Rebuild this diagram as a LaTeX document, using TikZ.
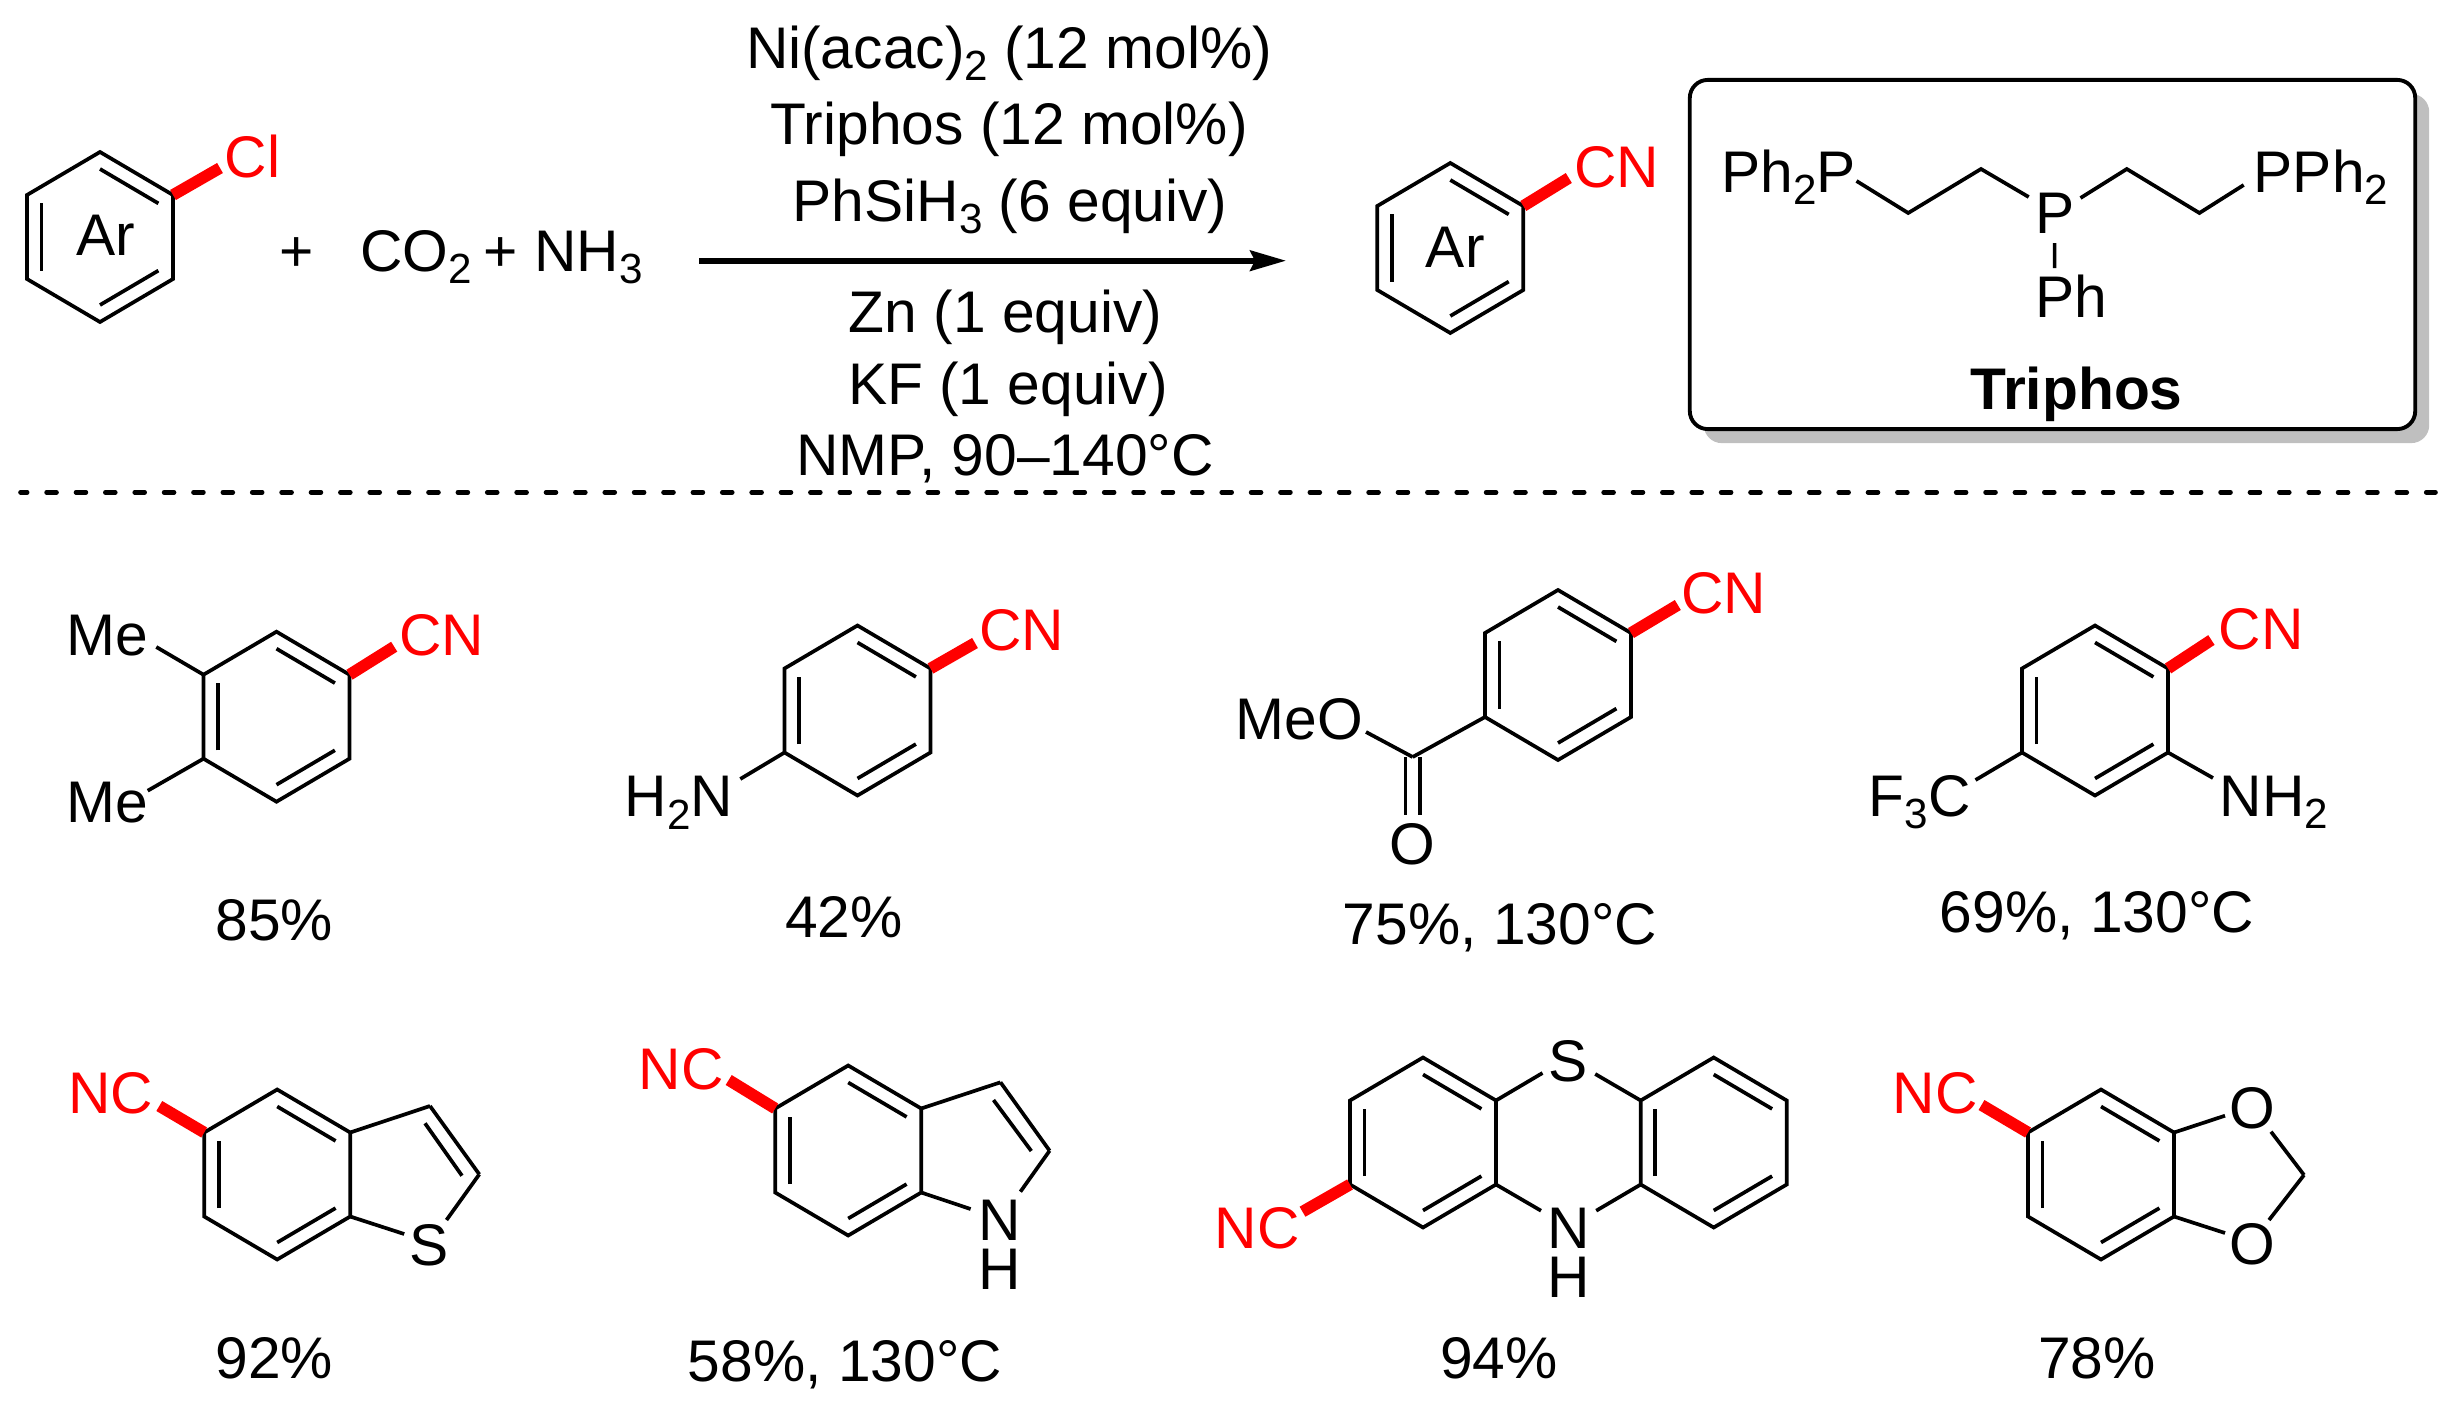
\documentclass[tikz,border=0pt]{standalone}
\usepackage{fontspec}
\setmainfont{Liberation Sans}
\usetikzlibrary{calc,arrows.meta,shadows}
\definecolor{shadegray}{RGB}{191,191,191}
\newcommand{\subs}[1]{\raisebox{-3.5pt}{\fontsize{12}{12}\selectfont #1}}
\tikzset{
  txt/.style={inner sep=0pt,anchor=base,font=\fontsize{16.7}{20}\selectfont},
  rtxt/.style={txt,text=red},
  nhtxt/.style={txt,align=center,font=\fontsize{16.7}{13.9}\selectfont},
  bond/.style={line width=1.05pt},
  cnbond/.style={red,line width=3.3pt},
  framebox/.style={draw,line width=1.1pt,fill=white,rounded corners=0.18cm,minimum width=7.25cm,minimum height=3.49cm,
    copy shadow={shadow xshift=0.14cm,shadow yshift=-0.14cm,fill=shadegray,draw=none}}
}
\begin{document}
\begin{tikzpicture}[x=0.01cm,y=-0.01cm]
  \useasboundingbox (0,0) rectangle (2463,1409);

  \foreach \n/\cx/\cy in {sm/100/237,pr/1450.3/248,a/276.5/716.7,b/857.5/710.5,c/1558/675,d/2095/710.5,e/277.2/1174.5,f/848.2/1150.5,g/1423/1142.5,h/1713.7/1142.5,k/2101/1174.5} {
    \coordinate (\n0) at (\cx,\cy);
    \coordinate (\n1) at (\cx,\cy-85); \coordinate (\n2) at (\cx+73,\cy-42); \coordinate (\n3) at (\cx+73,\cy+42);
    \coordinate (\n4) at (\cx,\cy+85); \coordinate (\n5) at (\cx-73,\cy+42); \coordinate (\n6) at (\cx-73,\cy-42);
    \draw[bond] (\n1)--(\n2)--(\n3)--(\n4)--(\n5)--(\n6)--cycle;
    \foreach \p/\q in {1/2,3/4,5/6} \draw[bond] ($(\n\p)!0.2!(\n0)$)--($(\n\q)!0.2!(\n0)$);
  }

  % reaction line
  \node[txt] (smar) at (105.5,255) {Ar};
  \node[rtxt] (cl) at (252.4,177) {Cl};
  \node[txt] (plus) at (297,271) {+};
  \node[txt] (gases) at (501.4,271) {CO\subs{2}\hspace{-1.3pt} + NH\subs{3}};
  \node[txt] (cond1) at (1009,68) {Ni(acac)\subs{2} (12 mol\%)};
  \node[txt] (cond2) at (1009,144) {Triphos (12 mol\%)};
  \node[txt] (cond3) at (1010,221) {PhSiH\subs{3} (6 equiv)};
  \node[txt] (cond4) at (1005.5,332) {Zn (1 equiv)};
  \node[txt] (cond5) at (1008,404) {KF (1 equiv)};
  \node[txt] (cond6) at (1005,475) {NMP, 90--140°C};
  \coordinate (arl) at (699,260.7); \coordinate (arr) at (1286,260.7);
  \draw[line width=1.6pt,-{Stealth[length=10.2pt,width=5.8pt,inset=1.4pt]}] (arl)--(arr);
  \node[txt] (prar) at (1455.3,267) {Ar};
  \node[rtxt] (prcn) at (1616.6,187) {CN};

  \node[framebox] (box) at (2052.5,254.5) {};
  \node[txt] (ppl) at (1788.8,192) {Ph\subs{2}P};
  \node[txt] (pmid) at (2054.6,233) {P};
  \node[txt] (ppr) at (2321,192) {PPh\subs{2}};
  \node[txt] (pph) at (2071.5,317) {Ph};
  \node[txt,font=\fontsize{16.7}{20}\selectfont\bfseries] (tname) at (2076.5,409) {Triphos};
  \coordinate (t1) at (1856.5,181); \coordinate (t2) at (1908.2,213); \coordinate (t3) at (1981,169); \coordinate (t4) at (2028.7,197);
  \coordinate (t5) at (2080.5,198); \coordinate (t6) at (2126.8,169); \coordinate (t7) at (2199.4,213); \coordinate (t8) at (2243.7,185);
  \coordinate (t9) at (2054.6,243); \coordinate (t10) at (2054.6,268);
  \draw[bond] (t1)--(t2)--(t3)--(t4) (t5)--(t6)--(t7)--(t8) (t9)--(t10);

  \coordinate (dl) at (20.5,492.3); \coordinate (dr) at (2435.5,492.3);
  \draw[line width=1.3pt,line cap=round,dash pattern=on 2.84pt off 5.514pt,dash phase=0.94pt] (dl)--(dr);

  % products
  \node[rtxt] (acn) at (442,655.7) {CN};
  \node[txt] (ame1) at (107,655) {Me};
  \node[txt] (ame2) at (107,822.7) {Me};
  \node[txt] (ay) at (274.3,940) {85\%};
  \coordinate (ae1) at (156.3,647); \coordinate (ae2) at (147.7,790.7); \coordinate (ae3) at (394.2,646.7);

  \node[rtxt] (bcn) at (1022,650) {CN};
  \node[txt] (bn) at (679,816.7) {H\subs{2}N};
  \node[txt] (by) at (844,937) {42\%};
  \coordinate (be1) at (740.3,779); \coordinate (be3) at (975,643);

  \node[rtxt] (ccn) at (1723.6,613) {CN};
  \node[txt] (cmeo) at (1299.5,739) {MeO};
  \node[txt] (co) at (1412.7,864) {O};
  \node[txt] (cy) at (1500,944) {75\%, 130°C};
  \coordinate (cc) at (1412.7,757); \coordinate (ce1) at (1366,732); \coordinate (ce3) at (1677.8,605);
  \coordinate (cd1) at (1405.6,757); \coordinate (cd2) at (1405.6,815); \coordinate (cd3) at (1420,757); \coordinate (cd4) at (1420,815);

  \node[rtxt] (dcn) at (2261.2,649) {CN};
  \node[txt] (dn) at (2274,816) {NH\subs{2}};
  \node[txt] (df) at (1919.7,816) {F\subs{3}C};
  \node[txt] (dy) at (2097,932) {69\%, 130°C};
  \coordinate (de1) at (2213,778); \coordinate (de2) at (1975.5,780); \coordinate (de3) at (2211.4,640);

  \node[rtxt] (ecn) at (111,1113) {NC};
  \node[txt] (es) at (429,1265) {S};
  \node[txt] (ey) at (274.3,1378) {92\%};
  \coordinate (e7) at (430,1106); \coordinate (e8) at (479.3,1174.3); \coordinate (e9) at (446.5,1220); \coordinate (e10) at (404.2,1234);
  \coordinate (e11) at (425,1123.3); \coordinate (e12) at (462,1175.7); \coordinate (ee3) at (159.3,1106);

  \node[rtxt] (fcn) at (681.4,1089.3) {NC};
  \node[nhtxt] (fnh) at (999.5,1289) {N\\H};
  \node[txt] (fy) at (845,1381) {58\%, 130°C};
  \coordinate (f7) at (1000.5,1082.3); \coordinate (f8) at (1049.6,1150.7); \coordinate (f9) at (1020.4,1191.7); \coordinate (f10) at (970.6,1209);
  \coordinate (f11) at (993.5,1100); \coordinate (f12) at (1031.3,1151); \coordinate (fe3) at (728.7,1080);

  \node[rtxt] (gcn) at (1257.2,1248) {NC};
  \node[txt] (gs) at (1568.3,1081) {S};
  \node[nhtxt] (gnh) at (1568.3,1297) {N\\H};
  \node[txt] (gy) at (1499,1378) {94\%};
  \coordinate (g7) at (1542.5,1073); \coordinate (g8) at (1595.2,1074); \coordinate (g9) at (1541,1210.7); \coordinate (g10) at (1596.2,1210.7);
  \coordinate (ge3) at (1302.5,1211.7);

  \node[rtxt] (kcn) at (1935,1113) {NC};
  \node[txt] (ko1) at (2252,1128) {O};
  \node[txt] (ko2) at (2252,1264) {O};
  \node[txt] (ky) at (2097,1378) {78\%};
  \coordinate (k7) at (2225,1115.7); \coordinate (k8) at (2225,1233); \coordinate (k9) at (2271,1131.7);
  \coordinate (k10) at (2304,1175); \coordinate (k11) at (2269,1220); \coordinate (ke3) at (1981.5,1105);

  \foreach \x/\y in {a6/ae1,a5/ae2,b5/be1,c5/cc,cc/ce1,cd1/cd2,cd3/cd4,d3/de1,d5/de2,e2/e7,e7/e8,e8/e9,e3/e10,e11/e12,
    f2/f7,f7/f8,f8/f9,f3/f10,f11/f12,g2/g7,g8/h6,g3/g9,g10/h5,k2/k7,k3/k8,k9/k10,k10/k11} \draw[bond] (\x)--(\y);
  \coordinate (sme) at (220,168); \coordinate (pre) at (1568.8,178);
  \foreach \x/\y in {sm2/sme,pr2/pre,a2/ae3,b2/be3,c2/ce3,d2/de3,e6/ee3,f6/fe3,g5/ge3,k6/ke3} \draw[cnbond] (\x)--(\y);
\end{tikzpicture}
\end{document}
